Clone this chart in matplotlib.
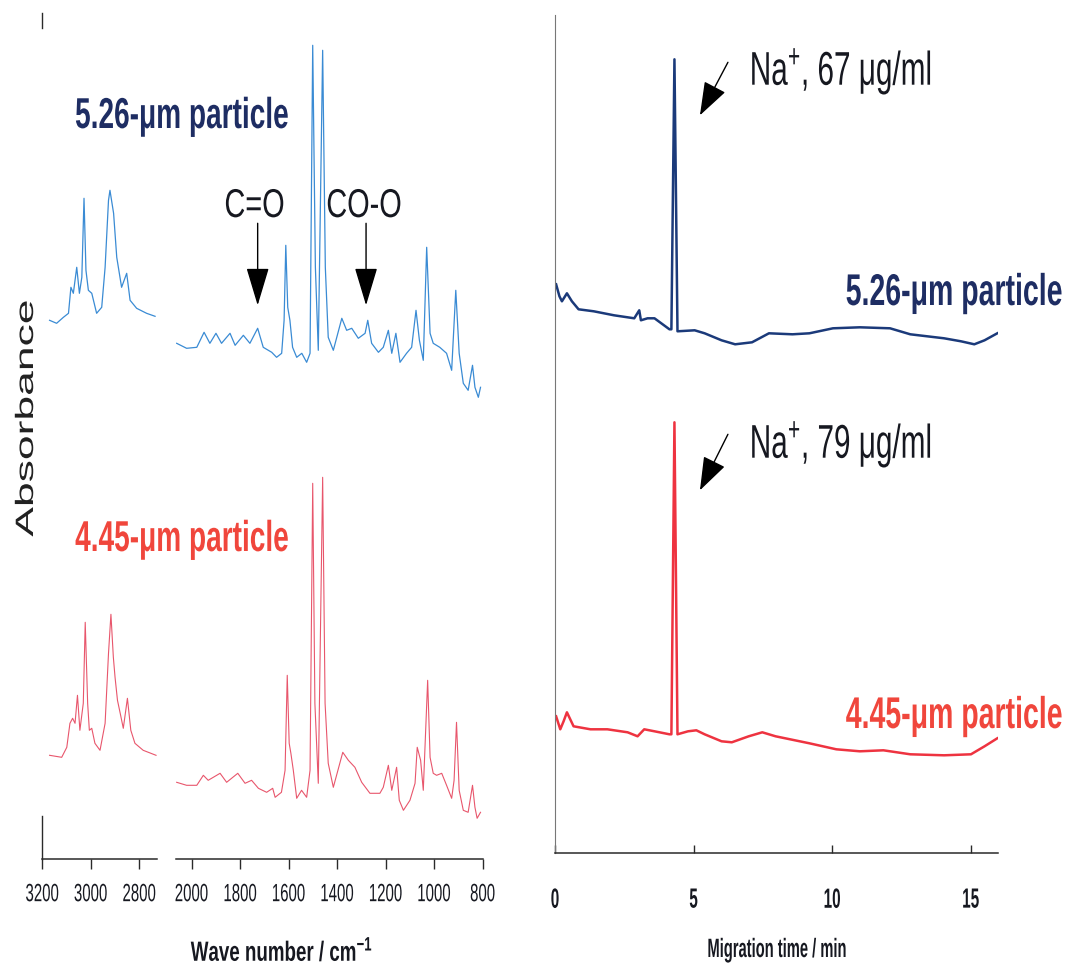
import matplotlib
matplotlib.use("Agg")
import matplotlib.pyplot as plt
from matplotlib.patheffects import AbstractPathEffect
from matplotlib.transforms import Affine2D

# ---------------- data ----------------
# IR spectrum, 5.26-um particle (blue), C-H region
ir_hi_wn_blue = [3170, 3141, 3113, 3092, 3082, 3072, 3058, 3047, 3037, 3028, 3020, 3010, 2996,
                 2976, 2955, 2941, 2927, 2921, 2906, 2893, 2873, 2852, 2838, 2811, 2770, 2735]
ir_hi_blue = [5.39, 5.36, 5.42, 5.46, 5.72, 5.66, 5.92, 5.66, 5.82, 6.61, 5.89, 5.69, 5.66,
              5.46, 5.52, 5.92, 6.59, 6.69, 6.46, 6.02, 5.72, 5.86, 5.59, 5.51, 5.46, 5.43]
# IR spectrum, 5.26-um particle (blue), fingerprint region
ir_lo_wn_blue = [2062, 2021, 1979, 1949, 1925, 1900, 1877, 1842, 1821, 1787, 1760, 1728, 1705,
                 1670, 1650, 1629, 1619, 1612, 1604, 1595, 1584, 1567, 1546, 1526, 1512, 1501,
                 1490, 1478, 1460, 1449, 1437, 1416, 1381, 1361, 1340, 1313, 1285, 1274, 1258,
                 1230, 1210, 1189, 1175, 1158, 1141, 1114, 1093, 1075, 1061, 1045, 1031, 1017,
                 1004, 977, 949, 928, 911, 897, 880, 860, 842, 832, 818, 809]
ir_lo_blue = [5.16, 5.11, 5.12, 5.27, 5.16, 5.26, 5.16, 5.26, 5.14, 5.24, 5.16, 5.31, 5.12,
              5.07, 5.02, 5.06, 5.39, 6.14, 5.52, 5.39, 5.12, 5.02, 5.06, 4.97, 5.06, 8.14,
              5.92, 5.09, 8.09, 5.92, 5.22, 5.09, 5.41, 5.29, 5.31, 5.21, 5.26, 5.39, 5.16,
              5.07, 5.12, 5.29, 5.06, 5.26, 4.97, 5.06, 5.12, 5.49, 5.19, 4.99, 6.12, 5.26,
              5.16, 5.12, 5.06, 4.89, 5.69, 5.06, 4.76, 4.69, 4.94, 4.72, 4.62, 4.72]
# IR spectrum, 4.45-um particle (red), C-H region
ir_hi_wn_red = [3170, 3120, 3099, 3086, 3075, 3065, 3055, 3045, 3031, 3023, 3013, 3006, 2996,
                2983, 2962, 2941, 2927, 2917, 2907, 2900, 2890, 2877, 2866, 2849, 2835, 2818,
                2784, 2731]
ir_hi_red = [1.04, 1.02, 1.12, 1.36, 1.41, 1.36, 1.64, 1.29, 1.56, 2.37, 1.56, 1.29, 1.31,
             1.16, 1.09, 1.36, 2.06, 2.45, 2.02, 1.82, 1.59, 1.44, 1.31, 1.61, 1.29, 1.16,
             1.09, 1.04]
# IR spectrum, 4.45-um particle (red), fingerprint region
ir_lo_wn_red = [2062, 2021, 1979, 1952, 1932, 1911, 1883, 1856, 1810, 1780, 1753, 1725, 1691,
                1666, 1656, 1630, 1615, 1606, 1598, 1591, 1581, 1567, 1547, 1526, 1512, 1501,
                1492, 1478, 1460, 1450, 1437, 1416, 1377, 1354, 1327, 1299, 1265, 1224, 1210,
                1189, 1175, 1155, 1144, 1127, 1100, 1079, 1070, 1056, 1045, 1027, 1017, 1004,
                990, 969, 949, 928, 918, 908, 897, 880, 860, 842, 832, 823, 809]
ir_lo_red = [0.77, 0.74, 0.74, 0.84, 0.79, 0.82, 0.86, 0.77, 0.86, 0.76, 0.79, 0.71, 0.67,
             0.71, 0.62, 0.67, 0.89, 1.84, 1.16, 1.06, 0.89, 0.61, 0.69, 0.62, 0.89, 3.76,
             1.56, 0.76, 3.82, 1.56, 0.96, 0.72, 1.07, 0.99, 0.92, 0.77, 0.66, 0.66, 0.72,
             0.94, 0.69, 0.92, 0.59, 0.49, 0.59, 0.76, 1.12, 0.99, 0.69, 1.79, 1.02, 0.86,
             0.84, 0.86, 0.74, 0.61, 0.79, 1.37, 0.69, 0.49, 0.47, 0.74, 0.52, 0.41, 0.47]

ir_ticks_hi = [3200, 3000, 2800]
ir_ticks_lo = [2000, 1800, 1600, 1400, 1200, 1000, 800]

# Capillary electropherograms
ce_t_blue = [0.04, 0.16, 0.25, 0.43, 0.61, 0.85, 1.40, 2.13, 2.86, 3.04, 3.10, 3.34, 3.59,
             4.13, 4.20, 4.31, 4.42, 5.04, 5.40, 6.01, 6.50, 7.11, 7.72, 8.57, 9.18, 10.03,
             11.00, 12.09, 12.82, 14.04, 14.65, 15.13, 15.50, 15.96]
ce_blue = [5.69, 5.57, 5.52, 5.60, 5.52, 5.44, 5.42, 5.38, 5.35, 5.43, 5.33, 5.35, 5.35,
           5.24, 5.24, 7.94, 5.22, 5.23, 5.20, 5.13, 5.09, 5.11, 5.20, 5.19, 5.20, 5.25,
           5.26, 5.25, 5.19, 5.15, 5.12, 5.09, 5.13, 5.20]
ce_t_red = [0.04, 0.19, 0.31, 0.43, 0.67, 1.28, 1.89, 2.62, 2.98, 3.22, 3.59, 4.13, 4.20,
            4.31, 4.42, 4.80, 5.10, 5.40, 6.01, 6.38, 6.99, 7.48, 7.96, 9.18, 10.15, 11.00,
            11.85, 12.82, 14.04, 15.01, 15.50, 15.96]
ce_red = [1.37, 1.24, 1.32, 1.41, 1.27, 1.24, 1.24, 1.21, 1.17, 1.24, 1.22, 1.19, 1.19,
          4.31, 1.19, 1.22, 1.23, 1.19, 1.12, 1.11, 1.17, 1.21, 1.17, 1.10, 1.04, 1.02,
          1.03, 0.99, 0.98, 0.99, 1.07, 1.15]
ce_ticks = [0, 5, 10, 15]

labels_particle = ["5.26-\u03bcm particle", "4.45-\u03bcm particle"]
labels_na = ["Na$^{+}$, 67 \u03bcg/ml", "Na$^{+}$, 79 \u03bcg/ml"]
band_labels = ["C=O", "CO-O"]
band_wn = [1728, 1281]

# ---------------- style ----------------
W, H = 1068, 967
plt.rcParams['font.family'] = ['Liberation Sans', 'DejaVu Sans']
plt.rcParams['mathtext.default'] = 'regular'

IR_BLUE = '#3a8bd4'
IR_RED = '#e8566c'
CE_NAVY = '#1b3a7a'
CE_RED = '#ee3340'
TXT_NAVY = '#1e2d63'
TXT_RED = '#f0463c'
INK = '#161820'
AXC = '#2a2a2a'


class Tall(AbstractPathEffect):
    """Scale glyphs along their own vertical axis: the reference lettering is tall and narrow."""

    def __init__(self, sy, anchor='baseline'):
        super().__init__()
        self.sy = sy
        self.anchor = anchor

    def draw_path(self, renderer, gc, tpath, affine, rgbFace=None):
        y0 = tpath.get_extents().y1 if self.anchor == 'top' else 0.0
        pre = Affine2D().translate(0, -y0).scale(1.0, self.sy).translate(0, y0)
        renderer.draw_path(gc, tpath, pre + affine, rgbFace)


def fx(x):
    return x / W


def fy(y):
    return 1 - y / H


fig = plt.figure(figsize=(W / 100, H / 100), dpi=100)
fig.patch.set_facecolor('white')

px_per_wn = 0.2425
axL = fig.add_axes([fx(42.3), fy(859.3), 114.4 / W, 850 / H])
axR = fig.add_axes([fx(175.7), fy(859.3), 307.0 / W, 850 / H])
axC = fig.add_axes([fx(555), fy(853.3), 443.4 / W, 838.3 / H])

axL.set_xlim(3200, 3200 - 114.4 / px_per_wn)
axR.set_xlim(2066, 2066 - 307.0 / px_per_wn)
for a in (axL, axR):
    a.set_ylim(0, 8.5)
axC.set_xlim(0, 16)
axC.set_ylim(0, 8.383)

for a in (axL, axR, axC):
    a.set_facecolor('none')
    a.set_yticks([])
    for s in ('top', 'right'):
        a.spines[s].set_visible(False)
    a.spines['bottom'].set_color(AXC)
    a.spines['bottom'].set_linewidth(1.1)

axL.spines['left'].set_bounds(0, 0.43)
axL.spines['left'].set_color(AXC)
axL.spines['left'].set_linewidth(1.0)
axL.axvline(3200, ymin=0.978, ymax=0.9956, color=AXC, lw=1.0, clip_on=False)
axR.spines['left'].set_visible(False)
axC.spines['left'].set_color('#777777')
axC.spines['left'].set_linewidth(0.8)

axL.set_xticks(ir_ticks_hi)
axR.set_xticks(ir_ticks_lo)
for a in (axL, axR):
    a.tick_params(axis='x', direction='out', length=7.2, width=1.0, pad=10,
                  labelsize=10.8, color=AXC, labelcolor=INK)
    for t in a.xaxis.get_major_ticks():
        t.label1.set_path_effects([Tall(1.667, 'top')])

axC.set_xticks(ce_ticks)
axC.tick_params(axis='x', direction='in', length=6, width=1.0, pad=25,
                labelsize=11, color=AXC, labelcolor=INK)
for t in axC.xaxis.get_major_ticks():
    t.label1.set_fontweight('bold')
    t.label1.set_path_effects([Tall(1.82, 'top')])

# ---------------- traces ----------------
axL.plot(ir_hi_wn_blue, ir_hi_blue, color=IR_BLUE, lw=0.9)
axR.plot(ir_lo_wn_blue, ir_lo_blue, color=IR_BLUE, lw=0.9)
axL.plot(ir_hi_wn_red, ir_hi_red, color=IR_RED, lw=0.8)
axR.plot(ir_lo_wn_red, ir_lo_red, color=IR_RED, lw=0.8)

axC.plot(ce_t_blue, ce_blue, color=CE_NAVY, lw=1.8)
axC.plot(ce_t_red, ce_red, color=CE_RED, lw=1.8)

# ---------------- annotations ----------------
arrow_kw = dict(arrowstyle='-|>,head_length=2.4,head_width=0.72', color='black',
                lw=1.0, shrinkA=0, shrinkB=0, mutation_scale=10)
for wn in band_wn:
    axR.annotate('', xy=(wn, 5.54), xytext=(wn, 6.36), arrowprops=arrow_kw)

ce_arrow_kw = dict(arrowstyle='-|>,head_length=2.1,head_width=0.75', color='black',
                   lw=1.0, shrinkA=0, shrinkB=0, mutation_scale=10)
axC.annotate('', xy=(5.23, 7.38), xytext=(6.24, 7.91), arrowprops=ce_arrow_kw)
axC.annotate('', xy=(5.23, 3.63), xytext=(6.24, 4.19), arrowprops=ce_arrow_kw)

# particle labels (IR panel)
fig.text(fx(182), fy(128), labels_particle[0], ha='center', va='baseline', fontsize=20.2,
         fontweight='bold', color=TXT_NAVY, path_effects=[Tall(1.54)])
fig.text(fx(182), fy(551), labels_particle[1], ha='center', va='baseline', fontsize=20.2,
         fontweight='bold', color=TXT_RED, path_effects=[Tall(1.54)])
# band labels
fig.text(fx(254.5), fy(217), band_labels[0], ha='center', va='baseline', fontsize=20.8,
         color=INK, path_effects=[Tall(1.39)])
fig.text(fx(364), fy(217), band_labels[1], ha='center', va='baseline', fontsize=20.8,
         color=INK, path_effects=[Tall(1.39)])

# CE labels
fig.text(fx(841), fy(85), labels_na[0], ha='center', va='baseline', fontsize=21.4,
         color=INK, path_effects=[Tall(1.59)])
fig.text(fx(841), fy(458), labels_na[1], ha='center', va='baseline', fontsize=21.4,
         color=INK, path_effects=[Tall(1.59)])
fig.text(fx(954), fy(305), labels_particle[0], ha='center', va='baseline', fontsize=20.5,
         fontweight='bold', color=TXT_NAVY, path_effects=[Tall(1.56)])
fig.text(fx(954), fy(728), labels_particle[1], ha='center', va='baseline', fontsize=20.5,
         fontweight='bold', color=TXT_RED, path_effects=[Tall(1.56)])

# axis titles (rotated label: long along its run, thin across it)
fig.text(fx(33), fy(418), 'Absorbance', rotation=90, rotation_mode='anchor', ha='center',
         va='baseline', fontsize=32, color='#222222', path_effects=[Tall(0.565)])
fig.text(fx(282), fy(961), 'Wave number / cm$^{-1}$', ha='center', va='baseline', fontsize=13.5,
         fontweight='bold', color=INK, path_effects=[Tall(1.48)])
fig.text(fx(777), fy(957), 'Migration time / min', ha='center', va='baseline', fontsize=10.6,
         fontweight='bold', color=INK, path_effects=[Tall(1.8)])

fig.savefig('out.png', dpi=100, facecolor='white')
